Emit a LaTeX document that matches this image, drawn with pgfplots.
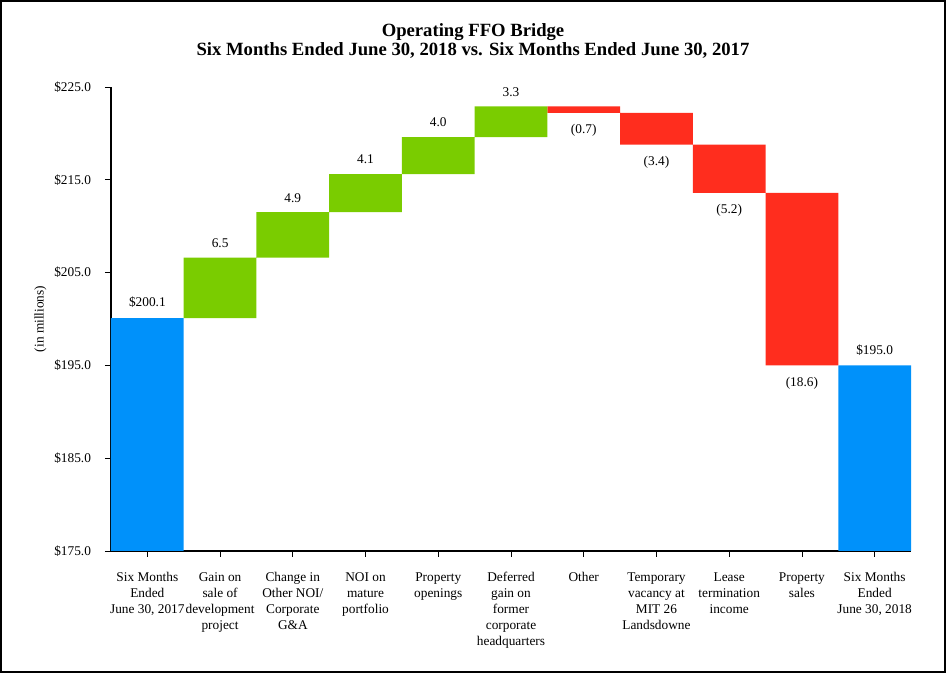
\documentclass[border=0pt]{standalone}
\usepackage{pgfplots}
\pgfplotsset{compat=1.18}
\usepackage{fontspec}
\setmainfont{Liberation Serif}
\definecolor{barblue}{RGB}{0,145,250}
\definecolor{bargreen}{RGB}{122,204,0}
\definecolor{barred}{RGB}{255,45,30}
% waterfall: invisible base, then the visible segment of each bar
\pgfplotstableread{
x base blue green red
0  0.0   200.1 0   0
1  200.1 0     6.5 0
2  206.6 0     4.9 0
3  211.5 0     4.1 0
4  215.6 0     4.0 0
5  219.6 0     3.3 0
6  222.2 0     0   0.7
7  218.8 0     0   3.4
8  213.6 0     0   5.2
9  195.0 0     0   18.6
10 0.0   195.0 0   0
}\bridgedata
\tikzset{vlab/.style={font=\fontsize{10}{12}\selectfont}}
\begin{document}
\begin{tikzpicture}
% outer frame, 946 x 673 px at 0.75pt per px
\useasboundingbox (0pt,0pt) rectangle (709.5pt,504.75pt);
\draw[line width=1.5pt] (0.75pt,0.75pt) rectangle (708.75pt,504pt);
\node[font=\bfseries\fontsize{14}{14.5}\selectfont, align=center] at (354.75pt,474pt)
  {Operating FFO Bridge\\Six Months Ended June 30, 2018 vs. Six Months Ended June 30, 2017};
\begin{axis}[
  at={(83.25pt,91.5pt)}, anchor=south west,
  scale only axis,
  width=600pt, height=348pt,
  ybar stacked, bar width=1,
  xmin=-0.5, xmax=10.5,
  ymin=175, ymax=225,
  axis lines*=left,
  axis line style={line width=0.9pt},
  tick align=outside,
  major tick length=4.5pt,
  tick style={line width=0.6pt, black},
  ytick={175,185,195,205,215,225},
  yticklabels={\$175.0,\$185.0,\$195.0,\$205.0,\$215.0,\$225.0},
  xtick={0,...,10},
  xticklabels={
    {Six Months\\Ended\\June 30, 2017},
    {Gain on\\sale of\\development\\project},
    {Change in\\Other NOI/\\Corporate\\G\&A},
    {NOI on\\mature\\portfolio},
    {Property\\openings},
    {Deferred\\gain on\\former\\corporate\\headquarters},
    {Other},
    {Temporary\\vacancy at\\MIT 26\\Landsdowne},
    {Lease\\termination\\income},
    {Property\\sales},
    {Six Months\\Ended\\June 30, 2018}},
  xticklabel style={align=center, font=\fontsize{10}{12}\selectfont, yshift=-8pt},
  yticklabel style={font=\fontsize{10}{12}\selectfont, xshift=-7pt},
  ylabel={(in millions)},
  ylabel style={font=\fontsize{10}{12}\selectfont},
  every axis y label/.style={at={(rel axis cs:0,0.5)}, xshift=-53pt, rotate=90, anchor=center},
  clip mode=individual,
]
\addplot[draw=none, fill=white, fill opacity=0] table[x=x, y=base] {\bridgedata};
\addplot[draw=none, fill=barblue] table[x=x, y=blue] {\bridgedata};
\addplot[draw=none, fill=bargreen] table[x=x, y=green] {\bridgedata};
\addplot[draw=none, fill=barred] table[x=x, y=red] {\bridgedata};
\node[vlab, above=4pt] at (axis cs:0,200.1) {\$200.1};
\node[vlab, above=4pt] at (axis cs:1,206.6) {6.5};
\node[vlab, above=4pt] at (axis cs:2,211.5) {4.9};
\node[vlab, above=4pt] at (axis cs:3,215.6) {4.1};
\node[vlab, above=4pt] at (axis cs:4,219.6) {4.0};
\node[vlab, above=4pt] at (axis cs:5,222.9) {3.3};
\node[vlab, below=5pt] at (axis cs:6,222.2) {(0.7)};
\node[vlab, below=5pt] at (axis cs:7,218.8) {(3.4)};
\node[vlab, below=5pt] at (axis cs:8,213.6) {(5.2)};
\node[vlab, below=5pt] at (axis cs:9,195.0) {(18.6)};
\node[vlab, above=4pt] at (axis cs:10,195.0) {\$195.0};
\end{axis}
\end{tikzpicture}
\end{document}
